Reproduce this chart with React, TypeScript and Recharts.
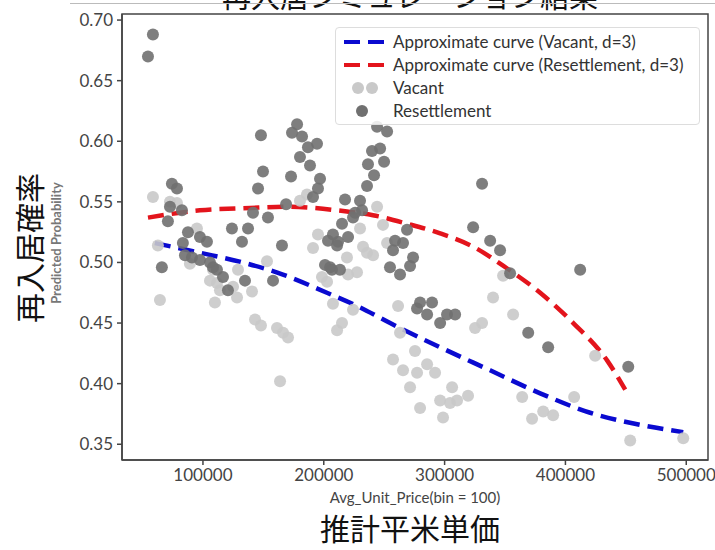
import { ComposedChart, Scatter, Line, XAxis, YAxis, ReferenceArea } from 'recharts';

// axis ticks
const priceTicks = [100000, 200000, 300000, 400000, 500000];
const probTicks = [0.35, 0.4, 0.45, 0.5, 0.55, 0.6, 0.65, 0.7];

// [Avg_Unit_Price, Predicted Probability]
const vacantPoints: [number, number][] = [
  [58600, 0.554], [72700, 0.55], [78500, 0.549], [62700, 0.514], [64400, 0.469],
  [95000, 0.528], [89200, 0.499], [105800, 0.485], [108300, 0.494], [109900, 0.467],
  [111600, 0.483], [114100, 0.477], [124900, 0.48], [128200, 0.471], [129000, 0.494],
  [140600, 0.476], [143100, 0.453], [148000, 0.448], [161300, 0.446], [166300, 0.442],
  [170400, 0.438], [163800, 0.402], [153000, 0.501], [180300, 0.551], [186100, 0.556],
  [195200, 0.523], [191100, 0.512], [198500, 0.488], [202700, 0.484], [211000, 0.444],
  [215100, 0.45], [207600, 0.466], [224200, 0.461], [219200, 0.504], [220100, 0.49],
  [227500, 0.492], [230000, 0.528], [249000, 0.531], [232500, 0.513], [240800, 0.506],
  [235800, 0.508], [244100, 0.546], [252400, 0.516], [261500, 0.464], [263100, 0.442],
  [275500, 0.427], [257300, 0.42], [265600, 0.411], [277200, 0.409], [285500, 0.416],
  [292100, 0.409], [271400, 0.397], [279700, 0.38], [296300, 0.386], [304500, 0.384],
  [310300, 0.386], [319400, 0.39], [306200, 0.397], [298700, 0.372], [340100, 0.471],
  [356700, 0.457], [325200, 0.446], [331000, 0.45], [348400, 0.489], [364200, 0.389],
  [372400, 0.371], [381600, 0.377], [389800, 0.374], [407200, 0.389], [424600, 0.423],
  [453600, 0.353], [497500, 0.355],
];

const resettlementPoints: [number, number][] = [
  [54500, 0.67], [58600, 0.688], [74300, 0.565], [78500, 0.561], [72700, 0.546],
  [82600, 0.543], [71000, 0.534], [66000, 0.496], [87600, 0.525], [97500, 0.521],
  [103300, 0.517], [83400, 0.516], [85100, 0.506], [90900, 0.504], [97500, 0.502],
  [105800, 0.5], [108300, 0.496], [111600, 0.494], [116600, 0.488], [120700, 0.477],
  [124000, 0.528], [137300, 0.528], [132300, 0.517], [134800, 0.485], [141400, 0.541],
  [145600, 0.561], [148000, 0.605], [149700, 0.575], [153800, 0.537], [158000, 0.485],
  [165400, 0.514], [168800, 0.548], [172900, 0.571], [177900, 0.614], [173700, 0.607],
  [182000, 0.604], [186900, 0.595], [194400, 0.598], [180300, 0.587], [188600, 0.58],
  [196900, 0.569], [195200, 0.561], [191100, 0.554], [217600, 0.552], [230000, 0.551],
  [231700, 0.543], [224200, 0.537], [215100, 0.532], [207600, 0.523], [203500, 0.518],
  [211800, 0.517], [220100, 0.521], [211000, 0.514], [205200, 0.496], [213400, 0.494],
  [201000, 0.498], [206800, 0.494], [225900, 0.541], [244100, 0.612], [252400, 0.608],
  [239900, 0.592], [246600, 0.594], [236600, 0.581], [249900, 0.583], [241600, 0.572],
  [235800, 0.563], [268900, 0.527], [259000, 0.518], [265600, 0.516], [257300, 0.51],
  [273900, 0.504], [271400, 0.497], [254800, 0.496], [263100, 0.49], [279700, 0.467],
  [289600, 0.467], [277200, 0.462], [285500, 0.457], [296300, 0.45], [302000, 0.457],
  [308700, 0.457], [323600, 0.529], [337700, 0.518], [345900, 0.51], [354200, 0.491],
  [331000, 0.565], [369200, 0.442], [385700, 0.43], [412200, 0.494], [452000, 0.414],
];

// fitted curves (d=3)
const vacantCurve: [number, number][] = [
  [60200, 0.516], [97500, 0.508], [133100, 0.5], [166200, 0.49], [202600, 0.475],
  [230000, 0.463], [254900, 0.45], [296300, 0.43], [337700, 0.411], [379100, 0.392],
  [420500, 0.376], [461900, 0.366], [497500, 0.36],
];

const resettlementCurve: [number, number][] = [
  [54500, 0.537], [97500, 0.543], [138900, 0.545], [169500, 0.546], [191100, 0.545],
  [219200, 0.542], [240700, 0.539], [268900, 0.532], [296300, 0.524], [323600, 0.513],
  [351800, 0.495], [379100, 0.475], [406500, 0.45], [434600, 0.419], [449500, 0.395],
];

const toXY = (pts: [number, number][]) => pts.map(([x, y]) => ({ x, y }));

const FONT = 'Lato, "Liberation Sans", sans-serif';
const CJK = '"Noto Sans CJK JP"';
const LIGHT = '#c9c9c9';
const DARK = '#707070';
const BLUE = '#0a0ad0';
const RED = '#e3141c';
const DASH = '16 8';
const X_DOMAIN = [33000, 518000];
const Y_DOMAIN = [0.337, 0.705];

const dot = (fill: string) => (props: any) => (
  <circle cx={props.cx} cy={props.cy} r={6} fill={fill} fillOpacity={0.9} />
);

function LegendBox() {
  const row = { display: 'flex', alignItems: 'center', height: 23 } as const;
  const sample = (child: any) => (
    <svg width={48} height={14} style={{ marginRight: 5 }}>{child}</svg>
  );
  return (
    <div
      style={{
        position: 'absolute', left: 335, top: 27, width: 353,
        border: '1px solid #ddd', borderRadius: 4, background: 'rgba(255,255,255,0.85)',
        padding: '2px 6px 2px 4px', fontFamily: FONT, fontSize: 17, color: '#333',
      }}
    >
      <div style={row}>
        {sample(<line x1={4} y1={7} x2={46} y2={7} stroke={BLUE} strokeWidth={4} strokeDasharray={DASH} />)}
        Approximate curve (Vacant, d=3)
      </div>
      <div style={row}>
        {sample(<line x1={4} y1={7} x2={46} y2={7} stroke={RED} strokeWidth={4} strokeDasharray={DASH} />)}
        Approximate curve (Resettlement, d=3)
      </div>
      <div style={row}>
        {sample(<><circle cx={18} cy={7} r={6} fill={LIGHT} /><circle cx={32} cy={7} r={6} fill={LIGHT} /></>)}
        Vacant
      </div>
      <div style={row}>
        {sample(<circle cx={22} cy={7} r={6} fill={DARK} />)}
        Resettlement
      </div>
    </div>
  );
}

export default function App() {
  const tick = { fontSize: 17, fill: '#444', fontFamily: FONT };
  return (
    <div style={{ position: 'absolute', left: 0, top: 0, width: 715, height: 550, overflow: 'hidden', background: '#fff' }}>
      <div style={{ position: 'absolute', top: -26, left: 0, width: 820, textAlign: 'center', fontFamily: CJK, fontSize: 29, color: '#111' }}>
        再入居シミュレーション結果
      </div>
      <div style={{ position: 'absolute', top: 3, left: 70, width: 645, borderTop: '1px solid #bbb' }} />
      <ComposedChart width={715} height={550} margin={{ top: 14, right: 7, bottom: 60, left: 62 }}>
        <XAxis
          dataKey="x" type="number" domain={X_DOMAIN} ticks={priceTicks}
          allowDataOverflow tick={tick} tickSize={5} tickMargin={4} height={30}
          stroke="#444" strokeWidth={1.5}
        />
        <YAxis
          dataKey="y" type="number" domain={Y_DOMAIN} ticks={probTicks}
          allowDataOverflow tick={tick} tickSize={5} tickMargin={4} width={60}
          tickFormatter={(v: number) => v.toFixed(2)} stroke="#444" strokeWidth={1.5}
        />
        <ReferenceArea x1={X_DOMAIN[0]} x2={X_DOMAIN[1]} y1={Y_DOMAIN[0]} y2={Y_DOMAIN[1]}
          fill="none" stroke="#444" strokeWidth={1.5} />
        <Scatter name="Vacant" data={toXY(vacantPoints)} shape={dot(LIGHT)} isAnimationActive={false} />
        <Scatter name="Resettlement" data={toXY(resettlementPoints)} shape={dot(DARK)} isAnimationActive={false} />
        <Line data={toXY(vacantCurve)} dataKey="y" type="monotone"
          stroke={BLUE} strokeWidth={4.5} strokeDasharray={DASH} dot={false} isAnimationActive={false} />
        <Line data={toXY(resettlementCurve)} dataKey="y" type="monotone"
          stroke={RED} strokeWidth={4.5} strokeDasharray={DASH} dot={false} isAnimationActive={false} />
      </ComposedChart>
      <LegendBox />
      <div style={{ position: 'absolute', top: 488, left: 122, width: 586, textAlign: 'center', fontFamily: FONT, fontSize: 15, color: '#444' }}>
        Avg_Unit_Price(bin = 100)
      </div>
      <div style={{ position: 'absolute', top: 510, left: 100, width: 620, textAlign: 'center', fontFamily: CJK, fontSize: 30, color: '#111', lineHeight: '34px' }}>
        推計平米単価
      </div>
      <div style={{ position: 'absolute', left: 56, top: 243, transform: 'translate(-50%, -50%) rotate(-90deg)', whiteSpace: 'nowrap', fontFamily: FONT, fontSize: 13, fontWeight: 700, color: '#777' }}>
        Predicted Probability
      </div>
      <div style={{ position: 'absolute', left: 28, top: 248, transform: 'translate(-50%, -50%) rotate(-90deg)', whiteSpace: 'nowrap', fontFamily: CJK, fontSize: 30, color: '#111' }}>
        再入居確率
      </div>
    </div>
  );
}
